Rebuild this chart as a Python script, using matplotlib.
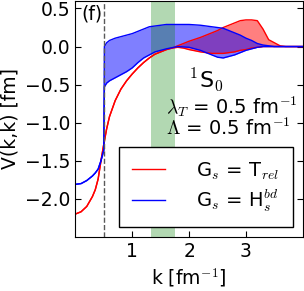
import numpy as np
import matplotlib
matplotlib.use("Agg")
import matplotlib.pyplot as plt

#-------------------
# data (k in fm^-1, V in fm)

# red band, Gs = T_rel
k_red = [0.0, 0.1, 0.2, 0.3, 0.35, 0.4, 0.45, 0.5, 0.55, 0.6, 0.7, 0.8, 0.9,
         1.0, 1.1, 1.2, 1.3, 1.4, 1.5, 1.6, 1.7, 1.8, 1.9, 2.0, 2.2, 2.4, 2.5,
         2.6, 2.7, 2.8, 2.9, 3.0, 3.1, 3.2, 3.3, 3.4, 3.5, 3.6, 3.7, 4.0]
red_lo = [-2.20, -2.17, -2.10, -1.97, -1.88, -1.74, -1.50, -1.28, -1.08, -0.92,
          -0.71, -0.56, -0.45, -0.36, -0.28, -0.21, -0.15, -0.10, -0.07, -0.04,
          -0.02, -0.01, -0.02, -0.04, -0.07, -0.09, -0.09, -0.09, -0.08, -0.07,
          -0.05, -0.04, -0.02, -0.01, 0.0, 0.0, 0.0, 0.0, 0.0, 0.0]
red_hi = [-2.20, -2.17, -2.10, -1.97, -1.88, -1.74, -1.50, -1.28, -1.08, -0.92,
          -0.71, -0.56, -0.45, -0.36, -0.28, -0.21, -0.15, -0.10, -0.07, -0.04,
          -0.02, 0.01, 0.04, 0.07, 0.12, 0.18, 0.21, 0.25, 0.28, 0.31, 0.34,
          0.35, 0.35, 0.34, 0.23, 0.09, 0.05, 0.01, 0.0, 0.0]

# blue band, Gs = H_s^bd
k_blue = [0.0, 0.1, 0.2, 0.3, 0.35, 0.4, 0.45, 0.5, 0.51, 0.55, 0.6, 0.7, 0.8,
          0.9, 1.0, 1.1, 1.2, 1.3, 1.4, 1.5, 1.6, 1.8, 2.0, 2.2, 2.4, 2.5, 2.6,
          2.7, 2.8, 2.9, 3.0, 3.1, 3.2, 3.3, 3.4, 3.5, 4.0]
blue_lo = [-1.81, -1.80, -1.76, -1.70, -1.66, -1.61, -1.50, -1.36, -0.53, -0.48,
           -0.45, -0.41, -0.37, -0.33, -0.28, -0.21, -0.15, -0.11, -0.07, -0.05,
           -0.03, 0.0, -0.01, -0.05, -0.11, -0.14, -0.15, -0.13, -0.11, -0.08,
           -0.05, -0.03, -0.01, 0.0, 0.0, 0.0, 0.0]
blue_hi = [-1.81, -1.80, -1.76, -1.70, -1.66, -1.61, -1.50, -1.36, 0.0, 0.05,
           0.08, 0.11, 0.13, 0.15, 0.17, 0.20, 0.23, 0.26, 0.27, 0.28, 0.29,
           0.29, 0.29, 0.28, 0.26, 0.25, 0.24, 0.21, 0.18, 0.15, 0.11, 0.08,
           0.04, 0.02, 0.01, 0.0, 0.0]

lam_cut = 0.5          # dashed line, Lambda
band = (1.33, 1.75)    # green shaded k range

#-------------------

plt.rcParams["font.family"] = "DejaVu Sans"
plt.rcParams["mathtext.fontset"] = "cm"
plt.rcParams["font.size"] = 13.5

fig = plt.figure(figsize=(3.04, 2.91), dpi=100)
ax = fig.add_axes([0.248, 0.186, 0.748, 0.811])

ax.fill_between(k_red, red_lo, red_hi, color="red", alpha=0.5, lw=0, zorder=1)
ax.fill_between(k_blue, blue_lo, blue_hi, color="blue", alpha=0.5, lw=0, zorder=1.1)
ax.axvspan(band[0], band[1], color="green", alpha=0.3, lw=0, zorder=1.5)

ax.plot(k_red, red_lo, color="red", lw=1, label=r"G$_s$ = T$_{rel}$")
ax.plot(k_red, red_hi, color="red", lw=1)
ax.plot(k_blue, blue_lo, color="blue", lw=1, label=r"G$_s$ = H$_s^{bd}$")
ax.plot(k_blue, blue_hi, color="blue", lw=1)

ax.axvline(lam_cut, color="0.35", ls="--", lw=1)

ax.text(0.025, 0.985, "(f)", transform=ax.transAxes, ha="left", va="top")
ax.text(2.0, -0.44, r"$^1$S$_0$", ha="left", va="center", fontsize=16)
ax.text(1.6, -0.92, "$\\lambda_T$ = 0.5 fm$^{-1}$\n$\\Lambda$ = 0.5 fm$^{-1}$",
        ha="left", va="center", fontsize=14, linespacing=0.95)

ax.set_xlim(0, 4)
ax.set_ylim(-2.5, 0.6)
ax.set_xticks([1, 2, 3])
ax.set_yticks([-2.0, -1.5, -1.0, -0.5, 0.0, 0.5])
ax.tick_params(direction="in", right=True, length=4)
ax.set_xlabel(r"k [fm$^{-1}$]")
ax.set_ylabel("V(k,k) [fm]")

leg = ax.legend(loc="lower right", fancybox=False, framealpha=1, fontsize=14,
                edgecolor="k", handlelength=1.7, handletextpad=1.6,
                labelspacing=0.3, borderpad=0.7, borderaxespad=0.5)
leg.get_frame().set_linewidth(1)

fig.savefig("out.png", dpi=100)
